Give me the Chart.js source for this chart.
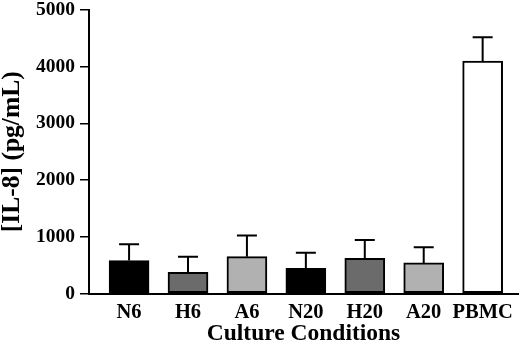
<!DOCTYPE html>
<html><head><meta charset="utf-8">
<script src="https://cdn.jsdelivr.net/npm/chart.js@4/dist/chart.umd.min.js"></script>
<style>html,body{margin:0;padding:0;background:#fff;}</style>
</head><body>
<canvas id="c" width="520" height="346" style="width:520px;height:346px;display:block"></canvas>
<script>
const categories = ['N6','H6','A6','N20','H20','A20','PBMC'];
const il8Means = [580, 375, 650, 445, 620, 540, 4100];
const il8Errors = [290, 275, 375, 275, 325, 275, 420];
const barColors = ['#000000','#6b6b6b','#b1b1b1','#000000','#6b6b6b','#b1b1b1','#ffffff'];
const yTicks = [0, 1000, 2000, 3000, 4000, 5000];

const FONT = "'Liberation Serif', 'Times New Roman', serif";

const errorBars = {
  id: 'errorBars',
  afterDatasetsDraw(chart) {
    const ctx = chart.ctx, meta = chart.getDatasetMeta(0), y = chart.scales.y;
    ctx.save();
    ctx.strokeStyle = '#000';
    ctx.lineWidth = 2;
    ctx.lineCap = 'butt';
    meta.data.forEach((bar, i) => {
      const top = y.getPixelForValue(il8Means[i] + il8Errors[i]);
      ctx.beginPath();
      ctx.moveTo(bar.x, bar.y);
      ctx.lineTo(bar.x, top);
      ctx.moveTo(bar.x - 10, top);
      ctx.lineTo(bar.x + 10, top);
      ctx.stroke();
    });
    ctx.restore();
  }
};

new Chart(document.getElementById('c'), {
  type: 'bar',
  data: {
    datasets: [{
      data: il8Means.map((v, i) => ({x: i, y: v})),
      backgroundColor: barColors,
      borderColor: '#000',
      borderWidth: 2,
      borderSkipped: false,
      barThickness: 40
    }]
  },
  options: {
    responsive: false,
    animation: false,
    devicePixelRatio: 1,
    layout: {padding: {top: 10, right: 2, left: 0, bottom: 0}},
    plugins: {legend: {display: false}, tooltip: {enabled: false}},
    scales: {
      x: {
        type: 'linear',
        offset: false,
        min: -0.68,
        max: 6.6,
        afterBuildTicks: s => { s.ticks = categories.map((_, i) => ({value: i})); },
        afterFit: s => { s.height = 52.5; s.paddingLeft = 0; s.paddingRight = 0; },
        grid: {display: false},
        border: {display: true, color: '#000', width: 2},
        ticks: {
          callback: v => categories[v] ?? '',
          color: '#000',
          font: {family: FONT, size: 20.5, weight: 'bold', lineHeight: 1},
          padding: 1,
          maxRotation: 0,
          autoSkip: false
        },
        title: {
          display: true,
          text: 'Culture Conditions',
          color: '#000',
          font: {family: FONT, size: 23.5, weight: 'bold', lineHeight: 1},
          padding: 0
        }
      },
      y: {
        min: 0,
        max: 5000,
        afterBuildTicks: s => { s.ticks = yTicks.map(v => ({value: v})); },
        afterFit: s => { s.width = 89; s.paddingTop = 0; s.paddingBottom = 0; },
        grid: {display: true, drawOnChartArea: false, drawTicks: true, tickLength: 9, color: '#000', lineWidth: 1.5},
        border: {display: true, color: '#000', width: 2},
        ticks: {
          callback: v => String(v),
          color: '#000',
          font: {family: FONT, size: 19.5, weight: 'bold', lineHeight: 1},
          padding: 5
        },
        title: {
          display: true,
          text: '[IL-8] (pg/mL)',
          color: '#000',
          font: {family: FONT, size: 25.5, weight: 'bold', lineHeight: 1},
          padding: 0
        }
      }
    }
  },
  plugins: [errorBars]
});
</script>
</body></html>
